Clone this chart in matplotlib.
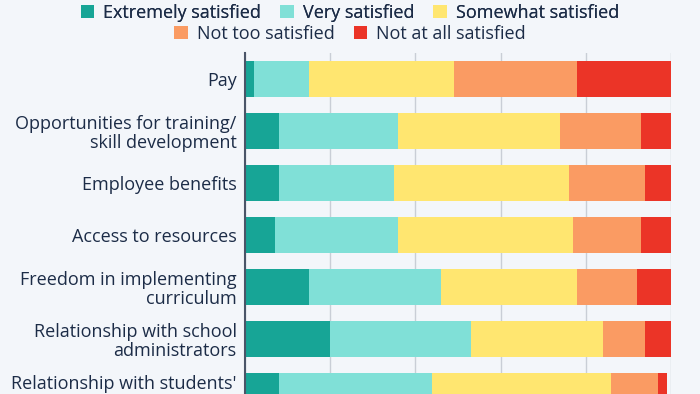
import matplotlib.pyplot as plt
from matplotlib.patches import Patch

categories = [
    "Pay",
    "Opportunities for training/\nskill development",
    "Employee benefits",
    "Access to resources",
    "Freedom in implementing\ncurriculum",
    "Relationship with school\nadministrators",
    "Relationship with students'\nparents",
]
series_names = ["Extremely satisfied", "Very satisfied", "Somewhat satisfied",
                "Not too satisfied", "Not at all satisfied"]
extremely = [2, 8, 8, 7, 15, 20, 8]
very = [13, 28, 27, 29, 31, 33, 36]
somewhat = [34, 38, 41, 41, 32, 31, 42]
not_too = [29, 19, 18, 16, 14, 10, 11]
not_at_all = [22, 7, 6, 7, 8, 6, 2]

colors = ["#17a596", "#80e0d7", "#ffe670", "#fa9b63", "#eb3427"]
bg = "#f3f6fa"
text_color = "#1c2c47"

plt.rcParams['font.family'] = ['Open Sans', 'DejaVu Sans']

fig = plt.figure(figsize=(7, 3.94), dpi=100, facecolor=bg)
W, H = 700, 394
left, right, top, bottom = 245, 671, 53, 417
ax = fig.add_axes([left / W, 1 - bottom / H, (right - left) / W, (bottom - top) / H])
ax.set_facecolor(bg)

series = [extremely, very, somewhat, not_too, not_at_all]
ypos = list(range(len(categories)))
start = [0] * len(categories)
for vals, c, name in zip(series, colors, series_names):
    ax.barh(ypos, vals, left=start, height=0.71, color=c, label=name, zorder=3)
    start = [s + v for s, v in zip(start, vals)]

ax.set_xlim(0, 100)
ax.set_ylim(len(categories) - 0.5, -0.5)
ax.set_xticks([0, 20, 40, 60, 80, 100])
ax.set_xticklabels([])
ax.tick_params(axis='x', length=0)
ax.grid(axis='x', color="#c9ced6", linewidth=1, zorder=0)
ax.set_yticks(ypos)
ax.set_yticklabels(categories, fontsize=13, color=text_color, linespacing=1.05,
                   multialignment='right')
ax.tick_params(axis='y', length=0, pad=6)
for s in ["top", "right", "bottom"]:
    ax.spines[s].set_visible(False)
ax.spines["left"].set_color("#4a5568")
ax.spines["left"].set_linewidth(1.5)
ax.spines["left"].set_zorder(4)

# legend in two centred rows
handles = [Patch(facecolor=c, edgecolor='none') for c in colors]
leg1 = fig.legend(handles[:3], series_names[:3], loc='center', bbox_to_anchor=(0.5, 1 - 13 / H),
                  ncol=3, frameon=False, fontsize=13, handlelength=0.75, handleheight=0.75,
                  handletextpad=0.5, columnspacing=1.05, labelcolor=text_color)
fig.add_artist(leg1)
fig.legend(handles[3:], series_names[3:], loc='center', bbox_to_anchor=(0.5, 1 - 34 / H),
           ncol=2, frameon=False, fontsize=13, handlelength=0.75, handleheight=0.75,
           handletextpad=0.5, columnspacing=1.05, labelcolor=text_color)

fig.savefig("out.png", dpi=100, facecolor=bg)
